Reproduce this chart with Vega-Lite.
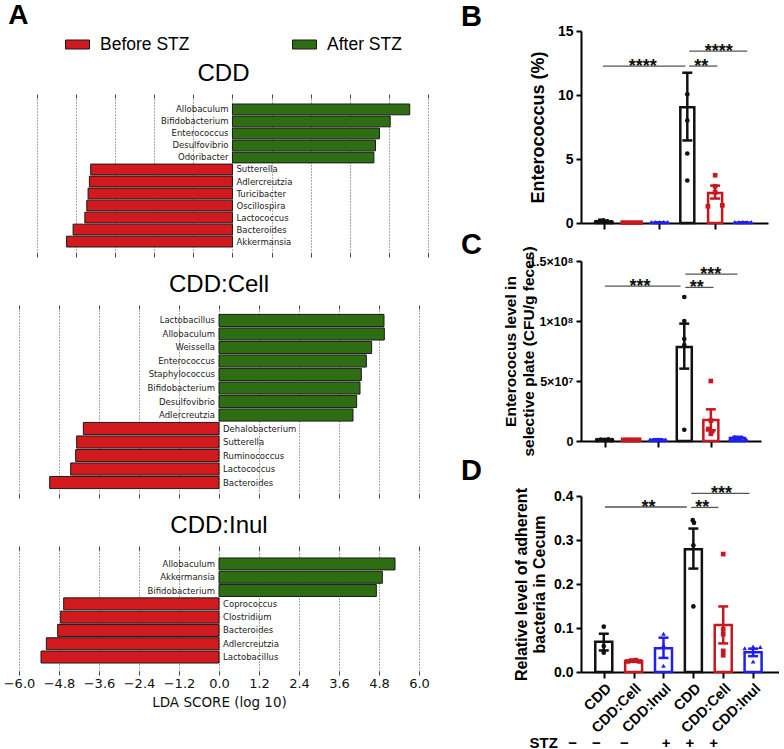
{
  "$schema": "https://vega.github.io/schema/vega-lite/v6.json",
  "background": "white",
  "padding": {"left": 3, "top": 1, "right": 0, "bottom": 0},
  "datasets": {
    "lefse": [
      {"panel": "CDD", "taxon": "Allobaculum", "lda": 5.44, "group": "After STZ"},
      {"panel": "CDD", "taxon": "Bifidobacterium", "lda": 4.84, "group": "After STZ"},
      {"panel": "CDD", "taxon": "Enterococcus", "lda": 4.51, "group": "After STZ"},
      {"panel": "CDD", "taxon": "Desulfovibrio", "lda": 4.39, "group": "After STZ"},
      {"panel": "CDD", "taxon": "Odoribacter", "lda": 4.34, "group": "After STZ"},
      {"panel": "CDD", "taxon": "Sutterella", "lda": -4.35, "group": "Before STZ"},
      {"panel": "CDD", "taxon": "Adlercreutzia", "lda": -4.39, "group": "Before STZ"},
      {"panel": "CDD", "taxon": "Turicibacter", "lda": -4.43, "group": "Before STZ"},
      {"panel": "CDD", "taxon": "Oscillospira", "lda": -4.47, "group": "Before STZ"},
      {"panel": "CDD", "taxon": "Lactococcus", "lda": -4.53, "group": "Before STZ"},
      {"panel": "CDD", "taxon": "Bacteroides", "lda": -4.89, "group": "Before STZ"},
      {"panel": "CDD", "taxon": "Akkermansia", "lda": -5.09, "group": "Before STZ"},
      {"panel": "CDD:Cell", "taxon": "Lactobacillus", "lda": 4.95, "group": "After STZ"},
      {"panel": "CDD:Cell", "taxon": "Allobaculum", "lda": 4.96, "group": "After STZ"},
      {"panel": "CDD:Cell", "taxon": "Weissella", "lda": 4.58, "group": "After STZ"},
      {"panel": "CDD:Cell", "taxon": "Enterococcus", "lda": 4.42, "group": "After STZ"},
      {"panel": "CDD:Cell", "taxon": "Staphylococcus", "lda": 4.27, "group": "After STZ"},
      {"panel": "CDD:Cell", "taxon": "Bifidobacterium", "lda": 4.23, "group": "After STZ"},
      {"panel": "CDD:Cell", "taxon": "Desulfovibrio", "lda": 4.13, "group": "After STZ"},
      {"panel": "CDD:Cell", "taxon": "Adlercreutzia", "lda": 4.02, "group": "After STZ"},
      {"panel": "CDD:Cell", "taxon": "Dehalobacterium", "lda": -4.07, "group": "Before STZ"},
      {"panel": "CDD:Cell", "taxon": "Sutterella", "lda": -4.27, "group": "Before STZ"},
      {"panel": "CDD:Cell", "taxon": "Ruminococcus", "lda": -4.30, "group": "Before STZ"},
      {"panel": "CDD:Cell", "taxon": "Lactococcus", "lda": -4.45, "group": "Before STZ"},
      {"panel": "CDD:Cell", "taxon": "Bacteroides", "lda": -5.08, "group": "Before STZ"},
      {"panel": "CDD:Inul", "taxon": "Allobaculum", "lda": 5.28, "group": "After STZ"},
      {"panel": "CDD:Inul", "taxon": "Akkermansia", "lda": 4.90, "group": "After STZ"},
      {"panel": "CDD:Inul", "taxon": "Bifidobacterium", "lda": 4.72, "group": "After STZ"},
      {"panel": "CDD:Inul", "taxon": "Coprococcus", "lda": -4.66, "group": "Before STZ"},
      {"panel": "CDD:Inul", "taxon": "Clostridium", "lda": -4.75, "group": "Before STZ"},
      {"panel": "CDD:Inul", "taxon": "Bacteroides", "lda": -4.84, "group": "Before STZ"},
      {"panel": "CDD:Inul", "taxon": "Adlercreutzia", "lda": -5.18, "group": "Before STZ"},
      {"panel": "CDD:Inul", "taxon": "Lactobacillus", "lda": -5.34, "group": "Before STZ"}
    ],
    "bars": [
      {"panel": "B", "pos": 1, "grp": "CDD", "mean": 0.12, "lo": 0.07, "hi": 0.17},
      {"panel": "B", "pos": 2, "grp": "CDD:Cell", "mean": 0.03, "lo": 0.02, "hi": 0.04},
      {"panel": "B", "pos": 3, "grp": "CDD:Inul", "mean": 0.03, "lo": 0.02, "hi": 0.04},
      {"panel": "B", "pos": 4, "grp": "CDD", "mean": 9.05, "lo": 6.45, "hi": 11.74},
      {"panel": "B", "pos": 5, "grp": "CDD:Cell", "mean": 2.35, "lo": 1.91, "hi": 2.92},
      {"panel": "B", "pos": 6, "grp": "CDD:Inul", "mean": 0.03, "lo": 0.02, "hi": 0.04},
      {"panel": "C", "pos": 1, "grp": "CDD", "mean": 1000000, "lo": 500000, "hi": 1500000},
      {"panel": "C", "pos": 2, "grp": "CDD:Cell", "mean": 1000000, "lo": 500000, "hi": 1500000},
      {"panel": "C", "pos": 3, "grp": "CDD:Inul", "mean": 1000000, "lo": 500000, "hi": 1500000},
      {"panel": "C", "pos": 4, "grp": "CDD", "mean": 78300000, "lo": 60300000, "hi": 97800000},
      {"panel": "C", "pos": 5, "grp": "CDD:Cell", "mean": 17500000, "lo": 8900000, "hi": 26400000},
      {"panel": "C", "pos": 6, "grp": "CDD:Inul", "mean": 2500000, "lo": 1500000, "hi": 3500000},
      {"panel": "D", "pos": 1, "grp": "CDD", "mean": 0.069, "lo": 0.049, "hi": 0.087},
      {"panel": "D", "pos": 2, "grp": "CDD:Cell", "mean": 0.025, "lo": 0.023, "hi": 0.027},
      {"panel": "D", "pos": 3, "grp": "CDD:Inul", "mean": 0.054, "lo": 0.032, "hi": 0.078},
      {"panel": "D", "pos": 4, "grp": "CDD", "mean": 0.279, "lo": 0.235, "hi": 0.326},
      {"panel": "D", "pos": 5, "grp": "CDD:Cell", "mean": 0.107, "lo": 0.065, "hi": 0.149},
      {"panel": "D", "pos": 6, "grp": "CDD:Inul", "mean": 0.045, "lo": 0.036, "hi": 0.053}
    ],
    "pts": [
      {"panel": "B", "grp": "CDD", "x": 0.72, "value": 0.08},
      {"panel": "B", "grp": "CDD", "x": 0.86, "value": 0.18},
      {"panel": "B", "grp": "CDD", "x": 0.98, "value": 0.2},
      {"panel": "B", "grp": "CDD", "x": 1.12, "value": 0.12},
      {"panel": "B", "grp": "CDD", "x": 1.28, "value": 0.06},
      {"panel": "B", "grp": "CDD:Cell", "x": 1.68, "value": 0.03},
      {"panel": "B", "grp": "CDD:Cell", "x": 1.84, "value": 0.03},
      {"panel": "B", "grp": "CDD:Cell", "x": 2.0, "value": 0.03},
      {"panel": "B", "grp": "CDD:Cell", "x": 2.16, "value": 0.03},
      {"panel": "B", "grp": "CDD:Cell", "x": 2.32, "value": 0.03},
      {"panel": "B", "grp": "CDD:Inul", "x": 2.7, "value": 0.08},
      {"panel": "B", "grp": "CDD:Inul", "x": 2.85, "value": 0.08},
      {"panel": "B", "grp": "CDD:Inul", "x": 3.0, "value": 0.08},
      {"panel": "B", "grp": "CDD:Inul", "x": 3.15, "value": 0.08},
      {"panel": "B", "grp": "CDD:Inul", "x": 3.3, "value": 0.08},
      {"panel": "B", "grp": "CDD", "x": 4.0, "value": 10.05},
      {"panel": "B", "grp": "CDD", "x": 4.0, "value": 8.01},
      {"panel": "B", "grp": "CDD", "x": 4.0, "value": 5.43},
      {"panel": "B", "grp": "CDD", "x": 4.0, "value": 3.32},
      {"panel": "B", "grp": "CDD:Cell", "x": 5.0, "value": 3.73},
      {"panel": "B", "grp": "CDD:Cell", "x": 5.0, "value": 2.87},
      {"panel": "B", "grp": "CDD:Cell", "x": 5.0, "value": 2.4},
      {"panel": "B", "grp": "CDD:Cell", "x": 4.74, "value": 1.31},
      {"panel": "B", "grp": "CDD:Cell", "x": 5.26, "value": 1.38},
      {"panel": "B", "grp": "CDD:Inul", "x": 5.7, "value": 0.08},
      {"panel": "B", "grp": "CDD:Inul", "x": 5.85, "value": 0.08},
      {"panel": "B", "grp": "CDD:Inul", "x": 6.0, "value": 0.08},
      {"panel": "B", "grp": "CDD:Inul", "x": 6.15, "value": 0.08},
      {"panel": "B", "grp": "CDD:Inul", "x": 6.3, "value": 0.08},
      {"panel": "C", "grp": "CDD", "x": 0.72, "value": 800000},
      {"panel": "C", "grp": "CDD", "x": 0.86, "value": 1200000},
      {"panel": "C", "grp": "CDD", "x": 1.0, "value": 1000000},
      {"panel": "C", "grp": "CDD", "x": 1.14, "value": 1300000},
      {"panel": "C", "grp": "CDD", "x": 1.28, "value": 700000},
      {"panel": "C", "grp": "CDD:Cell", "x": 1.7, "value": 1000000},
      {"panel": "C", "grp": "CDD:Cell", "x": 1.85, "value": 1000000},
      {"panel": "C", "grp": "CDD:Cell", "x": 2.0, "value": 1000000},
      {"panel": "C", "grp": "CDD:Cell", "x": 2.15, "value": 1000000},
      {"panel": "C", "grp": "CDD:Cell", "x": 2.3, "value": 1000000},
      {"panel": "C", "grp": "CDD:Inul", "x": 2.7, "value": 1000000},
      {"panel": "C", "grp": "CDD:Inul", "x": 2.85, "value": 1000000},
      {"panel": "C", "grp": "CDD:Inul", "x": 3.0, "value": 1000000},
      {"panel": "C", "grp": "CDD:Inul", "x": 3.15, "value": 1000000},
      {"panel": "C", "grp": "CDD:Inul", "x": 3.3, "value": 1000000},
      {"panel": "C", "grp": "CDD", "x": 4.0, "value": 120000000},
      {"panel": "C", "grp": "CDD", "x": 4.0, "value": 100000000},
      {"panel": "C", "grp": "CDD", "x": 4.0, "value": 85000000},
      {"panel": "C", "grp": "CDD", "x": 4.0, "value": 80000000},
      {"panel": "C", "grp": "CDD", "x": 4.0, "value": 9400000},
      {"panel": "C", "grp": "CDD:Cell", "x": 5.0, "value": 50000000},
      {"panel": "C", "grp": "CDD:Cell", "x": 5.0, "value": 17000000},
      {"panel": "C", "grp": "CDD:Cell", "x": 4.9, "value": 10000000},
      {"panel": "C", "grp": "CDD:Cell", "x": 5.05, "value": 8000000},
      {"panel": "C", "grp": "CDD:Cell", "x": 5.0, "value": 6000000},
      {"panel": "C", "grp": "CDD:Inul", "x": 5.75, "value": 2000000},
      {"panel": "C", "grp": "CDD:Inul", "x": 5.9, "value": 3500000},
      {"panel": "C", "grp": "CDD:Inul", "x": 6.05, "value": 1500000},
      {"panel": "C", "grp": "CDD:Inul", "x": 6.2, "value": 3000000},
      {"panel": "C", "grp": "CDD:Inul", "x": 6.35, "value": 1000000},
      {"panel": "D", "grp": "CDD", "x": 1.0, "value": 0.103},
      {"panel": "D", "grp": "CDD", "x": 1.0, "value": 0.059},
      {"panel": "D", "grp": "CDD", "x": 1.0, "value": 0.044},
      {"panel": "D", "grp": "CDD:Cell", "x": 1.8, "value": 0.024},
      {"panel": "D", "grp": "CDD:Cell", "x": 1.93, "value": 0.026},
      {"panel": "D", "grp": "CDD:Cell", "x": 2.07, "value": 0.027},
      {"panel": "D", "grp": "CDD:Cell", "x": 2.2, "value": 0.024},
      {"panel": "D", "grp": "CDD:Inul", "x": 3.0, "value": 0.087},
      {"panel": "D", "grp": "CDD:Inul", "x": 3.0, "value": 0.061},
      {"panel": "D", "grp": "CDD:Inul", "x": 3.0, "value": 0.014},
      {"panel": "D", "grp": "CDD", "x": 3.98, "value": 0.345},
      {"panel": "D", "grp": "CDD", "x": 4.02, "value": 0.339},
      {"panel": "D", "grp": "CDD", "x": 4.0, "value": 0.288},
      {"panel": "D", "grp": "CDD", "x": 4.0, "value": 0.149},
      {"panel": "D", "grp": "CDD:Cell", "x": 5.0, "value": 0.268},
      {"panel": "D", "grp": "CDD:Cell", "x": 5.0, "value": 0.097},
      {"panel": "D", "grp": "CDD:Cell", "x": 5.0, "value": 0.086},
      {"panel": "D", "grp": "CDD:Cell", "x": 5.0, "value": 0.048},
      {"panel": "D", "grp": "CDD:Cell", "x": 5.0, "value": 0.038},
      {"panel": "D", "grp": "CDD:Inul", "x": 5.72, "value": 0.054},
      {"panel": "D", "grp": "CDD:Inul", "x": 6.0, "value": 0.058},
      {"panel": "D", "grp": "CDD:Inul", "x": 6.24, "value": 0.057},
      {"panel": "D", "grp": "CDD:Inul", "x": 6.0, "value": 0.024}
    ],
    "brk": [
      {"panel": "B", "from": 0.97, "to": 3.93, "y": 12.26, "mid": 2.4, "stars": "****"},
      {"panel": "B", "from": 4.07, "to": 5.08, "y": 12.26, "mid": 4.5, "stars": "**"},
      {"panel": "B", "from": 4.07, "to": 6.15, "y": 13.43, "mid": 5.13, "stars": "****"},
      {"panel": "C", "from": 1.01, "to": 3.86, "y": 129000000, "mid": 2.33, "stars": "***"},
      {"panel": "C", "from": 4.04, "to": 5.1, "y": 128000000, "mid": 4.47, "stars": "**"},
      {"panel": "C", "from": 4.04, "to": 6.0, "y": 139000000, "mid": 5.0, "stars": "***"},
      {"panel": "D", "from": 1.04, "to": 3.78, "y": 0.375, "mid": 2.5, "stars": "**"},
      {"panel": "D", "from": 3.93, "to": 4.84, "y": 0.374, "mid": 4.3, "stars": "**"},
      {"panel": "D", "from": 3.93, "to": 5.88, "y": 0.406, "mid": 4.94, "stars": "***"}
    ]
  },
  "columns": 2,
  "align": "none",
  "spacing": 31,
  "concat": [
    {
      "title": {"text": "A", "anchor": "start", "fontSize": 28, "fontWeight": "bold", "font": "Liberation Sans", "color": "#000", "offset": 1, "dx": 5},
      "spacing": 56,
      "bounds": "flush",
      "resolve": {"legend": {"color": "independent"}},
      "vconcat": [
        {
          "width": 400, "height": 11,
          "data": {"values": [{}]},
          "mark": {"type": "text", "text": ""}
        },
        {
          "width": 409, "height": 155,
          "data": {"name": "lefse"},
          "transform": [{"filter": "datum.panel == 'CDD'"}],
          "title": {"text": "CDD", "font": "Liberation Sans", "fontSize": 24, "fontWeight": "normal", "color": "#000", "frame": "group", "anchor": "middle", "offset": -52},
          "layer": [
            {
              "mark": {"type": "bar", "stroke": "#1a1a1a", "strokeWidth": 1},
              "encoding": {
                "y": {"field": "taxon", "type": "nominal", "sort": null, "axis": null, "scale": {"paddingInner": 0.1, "paddingOuter": 0.5}},
                "x": {"field": "lda", "type": "quantitative", "scale": {"domain": [-6.55, 6], "nice": false, "zero": false},
                  "axis": {"orient": "bottom", "values": [-6, -4.8, -3.6, -2.4, -1.2, 0, 1.2, 2.4, 3.6, 4.8, 6], "grid": true, "gridDash": [1, 2], "gridColor": "#555", "gridWidth": 1, "ticks": true, "tickSize": 4, "tickWidth": 1, "tickColor": "#444", "domain": false, "labels": false, "title": null}},
                "color": {"field": "group", "type": "nominal",
                  "scale": {"domain": ["Before STZ", "After STZ"], "range": ["#d2191e", "#2f6d13"]},
                  "legend": {"orient": "none", "legendX": 48, "legendY": -64, "direction": "horizontal", "title": null, "symbolType": "M-1.2,-0.45H1.2V0.45H-1.2Z", "symbolSize": 400, "symbolStrokeColor": "#1a1a1a", "symbolStrokeWidth": 1, "symbolOpacity": 1, "labelFont": "Liberation Sans", "labelFontSize": 17.5, "labelFontWeight": "normal", "labelColor": "#000", "labelOffset": 12, "columnPadding": 100, "labelLimit": 300}}
              }
            },
            {
              "mark": {"type": "text", "align": "right", "baseline": "middle", "dx": -4, "font": "DejaVu Sans", "fontSize": 8.5, "fill": "#222"},
              "encoding": {
                "y": {"field": "taxon", "type": "nominal", "sort": null, "axis": null},
                "x": {"datum": 0, "type": "quantitative", "axis": {"orient": "top", "values": [-6, -4.8, -3.6, -2.4, -1.2, 0, 1.2, 2.4, 3.6, 4.8, 6], "grid": false, "ticks": true, "tickSize": 4, "tickWidth": 1, "tickColor": "#444", "domain": false, "labels": false, "title": null}},
                "text": {"condition": {"test": "datum.lda > 0", "field": "taxon", "type": "nominal"}, "value": ""}
              }
            },
            {
              "mark": {"type": "text", "align": "left", "baseline": "middle", "dx": 4, "font": "DejaVu Sans", "fontSize": 8.5, "fill": "#222"},
              "encoding": {
                "y": {"field": "taxon", "type": "nominal", "sort": null, "axis": null},
                "x": {"datum": 0, "type": "quantitative", "axis": null},
                "text": {"condition": {"test": "datum.lda < 0", "field": "taxon", "type": "nominal"}, "value": ""}
              }
            }
          ],
          "resolve": {"axis": {"x": "independent"}}
        },
        {
          "width": 400, "height": 185,
          "data": {"name": "lefse"},
          "transform": [{"filter": "datum.panel == 'CDD:Cell'"}],
          "title": {"text": "CDD:Cell", "font": "Liberation Sans", "fontSize": 24, "fontWeight": "normal", "color": "#000", "frame": "group", "anchor": "middle", "offset": 8},
          "layer": [
            {
              "mark": {"type": "bar", "stroke": "#1a1a1a", "strokeWidth": 1},
              "encoding": {
                "y": {"field": "taxon", "type": "nominal", "sort": null, "axis": null, "scale": {"paddingInner": 0.1, "paddingOuter": 0.4}},
                "x": {"field": "lda", "type": "quantitative", "scale": {"domain": [-6, 6], "nice": false, "zero": false},
                  "axis": {"orient": "bottom", "values": [-6, -4.8, -3.6, -2.4, -1.2, 0, 1.2, 2.4, 3.6, 4.8, 6], "grid": true, "gridDash": [1, 2], "gridColor": "#555", "gridWidth": 1, "ticks": true, "tickSize": 4, "tickWidth": 1, "tickColor": "#444", "domain": false, "labels": false, "title": null}},
                "color": {"field": "group", "type": "nominal", "scale": {"domain": ["Before STZ", "After STZ"], "range": ["#d2191e", "#2f6d13"]}, "legend": null}
              }
            },
            {
              "mark": {"type": "text", "align": "right", "baseline": "middle", "dx": -4, "font": "DejaVu Sans", "fontSize": 8.5, "fill": "#222"},
              "encoding": {
                "y": {"field": "taxon", "type": "nominal", "sort": null, "axis": null},
                "x": {"datum": 0, "type": "quantitative", "axis": {"orient": "top", "values": [-6, -4.8, -3.6, -2.4, -1.2, 0, 1.2, 2.4, 3.6, 4.8, 6], "grid": false, "ticks": true, "tickSize": 4, "tickWidth": 1, "tickColor": "#444", "domain": false, "labels": false, "title": null}},
                "text": {"condition": {"test": "datum.lda > 0", "field": "taxon", "type": "nominal"}, "value": ""}
              }
            },
            {
              "mark": {"type": "text", "align": "left", "baseline": "middle", "dx": 4, "font": "DejaVu Sans", "fontSize": 8.5, "fill": "#222"},
              "encoding": {
                "y": {"field": "taxon", "type": "nominal", "sort": null, "axis": null},
                "x": {"datum": 0, "type": "quantitative", "axis": null},
                "text": {"condition": {"test": "datum.lda < 0", "field": "taxon", "type": "nominal"}, "value": ""}
              }
            }
          ],
          "resolve": {"axis": {"x": "independent"}}
        },
        {
          "width": 400, "height": 121,
          "data": {"name": "lefse"},
          "transform": [{"filter": "datum.panel == 'CDD:Inul'"}],
          "title": {"text": "CDD:Inul", "font": "Liberation Sans", "fontSize": 24, "fontWeight": "normal", "color": "#000", "frame": "group", "anchor": "middle", "offset": 8},
          "layer": [
            {
              "mark": {"type": "bar", "stroke": "#1a1a1a", "strokeWidth": 1},
              "encoding": {
                "y": {"field": "taxon", "type": "nominal", "sort": null, "axis": null, "scale": {"paddingInner": 0.1, "paddingOuter": 0.6}},
                "x": {"field": "lda", "type": "quantitative", "scale": {"domain": [-6, 6], "nice": false, "zero": false},
                  "axis": {"orient": "bottom", "values": [-6, -4.8, -3.6, -2.4, -1.2, 0, 1.2, 2.4, 3.6, 4.8, 6], "format": ".1f", "grid": true, "gridDash": [1, 2], "gridColor": "#555", "gridWidth": 1, "ticks": true, "tickSize": 4, "tickWidth": 1, "tickColor": "#444", "domain": false, "labels": true, "labelFont": "DejaVu Sans", "labelFontSize": 13, "labelFontWeight": "normal", "labelColor": "#111", "labelPadding": 2, "title": "LDA SCORE (log 10)", "titleFont": "DejaVu Sans", "titleFontSize": 13.5, "titleFontWeight": "normal", "titleColor": "#111", "titlePadding": 5}},
                "color": {"field": "group", "type": "nominal", "scale": {"domain": ["Before STZ", "After STZ"], "range": ["#d2191e", "#2f6d13"]}, "legend": null}
              }
            },
            {
              "mark": {"type": "text", "align": "right", "baseline": "middle", "dx": -4, "font": "DejaVu Sans", "fontSize": 8.5, "fill": "#222"},
              "encoding": {
                "y": {"field": "taxon", "type": "nominal", "sort": null, "axis": null},
                "x": {"datum": 0, "type": "quantitative", "axis": {"orient": "top", "values": [-6, -4.8, -3.6, -2.4, -1.2, 0, 1.2, 2.4, 3.6, 4.8, 6], "grid": false, "ticks": true, "tickSize": 4, "tickWidth": 1, "tickColor": "#444", "domain": false, "labels": false, "title": null}},
                "text": {"condition": {"test": "datum.lda > 0", "field": "taxon", "type": "nominal"}, "value": ""}
              }
            },
            {
              "mark": {"type": "text", "align": "left", "baseline": "middle", "dx": 4, "font": "DejaVu Sans", "fontSize": 8.5, "fill": "#222"},
              "encoding": {
                "y": {"field": "taxon", "type": "nominal", "sort": null, "axis": null},
                "x": {"datum": 0, "type": "quantitative", "axis": null},
                "text": {"condition": {"test": "datum.lda < 0", "field": "taxon", "type": "nominal"}, "value": ""}
              }
            }
          ],
          "resolve": {"axis": {"x": "independent"}}
        }
      ]
    },
    {
      "spacing": 0,
      "vconcat": [
        {
          "width": 187, "height": 192,
          "title": {"text": "B", "anchor": "start", "frame": "group", "dx": -120, "offset": -8, "fontSize": 29, "fontWeight": "bold", "font": "Liberation Sans", "color": "#000"},
          "layer": [
            {
              "data": {"name": "bars"}, "transform": [{"filter": "datum.panel == 'B'"}],
              "mark": {"type": "bar", "orient": "vertical", "width": 14, "fill": "#fff", "strokeWidth": 2.5},
              "encoding": {
                "x": {"field": "pos", "type": "quantitative", "scale": {"domain": [0.36, 6.72], "nice": false, "zero": false}, "axis": {"values": [1, 2, 3, 4, 5, 6], "labels": false, "title": null, "tickSize": 6}},
                "y": {"field": "mean", "type": "quantitative", "scale": {"domain": [0, 15], "nice": false}, "axis": {"values": [0, 5, 10, 15], "title": "Enterococcus (%)", "titleFontSize": 18, "titlePadding": 10}},
                "stroke": {"field": "grp", "type": "nominal", "scale": {"domain": ["CDD", "CDD:Cell", "CDD:Inul"], "range": ["#111111", "#c8171e", "#1f1fee"]}, "legend": null}
              }
            },
            {
              "data": {"name": "bars"}, "transform": [{"filter": "datum.panel == 'B'"}],
              "mark": {"type": "rule", "strokeWidth": 2.5},
              "encoding": {
                "x": {"field": "pos", "type": "quantitative"},
                "y": {"field": "lo", "type": "quantitative"},
                "y2": {"field": "hi"},
                "stroke": {"field": "grp", "type": "nominal", "scale": {"domain": ["CDD", "CDD:Cell", "CDD:Inul"], "range": ["#111111", "#c8171e", "#1f1fee"]}, "legend": null}
              }
            },
            {
              "data": {"name": "bars"}, "transform": [{"filter": "datum.panel == 'B'"}],
              "mark": {"type": "tick", "orient": "horizontal", "size": 10, "thickness": 2.5, "opacity": 1},
              "encoding": {
                "x": {"field": "pos", "type": "quantitative"},
                "y": {"field": "lo", "type": "quantitative"},
                "fill": {"field": "grp", "type": "nominal", "scale": {"domain": ["CDD", "CDD:Cell", "CDD:Inul"], "range": ["#111111", "#c8171e", "#1f1fee"]}, "legend": null}
              }
            },
            {
              "data": {"name": "bars"}, "transform": [{"filter": "datum.panel == 'B'"}],
              "mark": {"type": "tick", "orient": "horizontal", "size": 10, "thickness": 2.5, "opacity": 1},
              "encoding": {
                "x": {"field": "pos", "type": "quantitative"},
                "y": {"field": "hi", "type": "quantitative"},
                "fill": {"field": "grp", "type": "nominal", "scale": {"domain": ["CDD", "CDD:Cell", "CDD:Inul"], "range": ["#111111", "#c8171e", "#1f1fee"]}, "legend": null}
              }
            },
            {
              "data": {"name": "pts"}, "transform": [{"filter": "datum.panel == 'B'"}],
              "mark": {"type": "point", "filled": true, "size": 22, "opacity": 1, "strokeWidth": 0},
              "encoding": {
                "x": {"field": "x", "type": "quantitative"},
                "y": {"field": "value", "type": "quantitative"},
                "fill": {"field": "grp", "type": "nominal", "scale": {"domain": ["CDD", "CDD:Cell", "CDD:Inul"], "range": ["#111111", "#c8171e", "#1f1fee"]}, "legend": null},
                "shape": {"field": "grp", "type": "nominal", "scale": {"domain": ["CDD", "CDD:Cell", "CDD:Inul"], "range": ["circle", "square", "triangle-up"]}, "legend": null}
              }
            },
            {
              "data": {"name": "brk"}, "transform": [{"filter": "datum.panel == 'B'"}],
              "mark": {"type": "rule", "color": "#555", "strokeWidth": 1.3},
              "encoding": {
                "x": {"field": "from", "type": "quantitative"},
                "x2": {"field": "to"},
                "y": {"field": "y", "type": "quantitative"}
              }
            },
            {
              "data": {"name": "brk"}, "transform": [{"filter": "datum.panel == 'B'"}],
              "mark": {"type": "text", "font": "Liberation Sans", "fontSize": 18, "fontWeight": "bold", "baseline": "alphabetic", "dy": 6, "fill": "#111"},
              "encoding": {
                "x": {"field": "mid", "type": "quantitative"},
                "y": {"field": "y", "type": "quantitative"},
                "text": {"field": "stars"}
              }
            }
          ]
        },
        {
          "width": 180, "height": 180,
          "title": {"text": "C", "anchor": "start", "frame": "group", "dx": -120, "offset": -14, "fontSize": 29, "fontWeight": "bold", "font": "Liberation Sans", "color": "#000"},
          "layer": [
            {
              "data": {"name": "bars"}, "transform": [{"filter": "datum.panel == 'C'"}],
              "mark": {"type": "bar", "orient": "vertical", "width": 15, "fill": "#fff", "strokeWidth": 2.5},
              "encoding": {
                "x": {"field": "pos", "type": "quantitative", "scale": {"domain": [0.3, 6.7], "nice": false, "zero": false}, "axis": {"values": [1, 2, 3, 4, 5, 6], "labels": false, "title": null, "tickSize": 6}},
                "y": {"field": "mean", "type": "quantitative", "scale": {"domain": [0, 150000000], "nice": false},
                  "axis": {"values": [0, 50000000, 100000000, 150000000], "labelFontSize": 12.5, "labelExpr": "datum.value == 0 ? '0' : datum.value == 50000000 ? '5×10⁷' : datum.value == 100000000 ? '1×10⁸' : '1.5×10⁸'", "title": ["Enterococus level in", "selective plate (CFU/g feces)"], "titleFontSize": 15.5, "titleLineHeight": 18, "titleLimit": 260, "titlePadding": -8}},
                "stroke": {"field": "grp", "type": "nominal", "scale": {"domain": ["CDD", "CDD:Cell", "CDD:Inul"], "range": ["#111111", "#c8171e", "#1f1fee"]}, "legend": null}
              }
            },
            {
              "data": {"name": "bars"}, "transform": [{"filter": "datum.panel == 'C'"}],
              "mark": {"type": "rule", "strokeWidth": 2.5},
              "encoding": {
                "x": {"field": "pos", "type": "quantitative"},
                "y": {"field": "lo", "type": "quantitative"},
                "y2": {"field": "hi"},
                "stroke": {"field": "grp", "type": "nominal", "scale": {"domain": ["CDD", "CDD:Cell", "CDD:Inul"], "range": ["#111111", "#c8171e", "#1f1fee"]}, "legend": null}
              }
            },
            {
              "data": {"name": "bars"}, "transform": [{"filter": "datum.panel == 'C'"}],
              "mark": {"type": "tick", "orient": "horizontal", "size": 10, "thickness": 2.5, "opacity": 1},
              "encoding": {
                "x": {"field": "pos", "type": "quantitative"},
                "y": {"field": "lo", "type": "quantitative"},
                "fill": {"field": "grp", "type": "nominal", "scale": {"domain": ["CDD", "CDD:Cell", "CDD:Inul"], "range": ["#111111", "#c8171e", "#1f1fee"]}, "legend": null}
              }
            },
            {
              "data": {"name": "bars"}, "transform": [{"filter": "datum.panel == 'C'"}],
              "mark": {"type": "tick", "orient": "horizontal", "size": 10, "thickness": 2.5, "opacity": 1},
              "encoding": {
                "x": {"field": "pos", "type": "quantitative"},
                "y": {"field": "hi", "type": "quantitative"},
                "fill": {"field": "grp", "type": "nominal", "scale": {"domain": ["CDD", "CDD:Cell", "CDD:Inul"], "range": ["#111111", "#c8171e", "#1f1fee"]}, "legend": null}
              }
            },
            {
              "data": {"name": "pts"}, "transform": [{"filter": "datum.panel == 'C'"}],
              "mark": {"type": "point", "filled": true, "size": 22, "opacity": 1, "strokeWidth": 0},
              "encoding": {
                "x": {"field": "x", "type": "quantitative"},
                "y": {"field": "value", "type": "quantitative"},
                "fill": {"field": "grp", "type": "nominal", "scale": {"domain": ["CDD", "CDD:Cell", "CDD:Inul"], "range": ["#111111", "#c8171e", "#1f1fee"]}, "legend": null},
                "shape": {"field": "grp", "type": "nominal", "scale": {"domain": ["CDD", "CDD:Cell", "CDD:Inul"], "range": ["circle", "square", "triangle-up"]}, "legend": null}
              }
            },
            {
              "data": {"name": "brk"}, "transform": [{"filter": "datum.panel == 'C'"}],
              "mark": {"type": "rule", "color": "#555", "strokeWidth": 1.3},
              "encoding": {
                "x": {"field": "from", "type": "quantitative"},
                "x2": {"field": "to"},
                "y": {"field": "y", "type": "quantitative"}
              }
            },
            {
              "data": {"name": "brk"}, "transform": [{"filter": "datum.panel == 'C'"}],
              "mark": {"type": "text", "font": "Liberation Sans", "fontSize": 18, "fontWeight": "bold", "baseline": "alphabetic", "dy": 6, "fill": "#111"},
              "encoding": {
                "x": {"field": "mid", "type": "quantitative"},
                "y": {"field": "y", "type": "quantitative"},
                "text": {"field": "stars"}
              }
            }
          ]
        },
        {
          "width": 198, "height": 176,
          "title": {"text": "D", "anchor": "start", "frame": "group", "dx": -120, "offset": -1, "fontSize": 29, "fontWeight": "bold", "font": "Liberation Sans", "color": "#000"},
          "resolve": {"axis": {"x": "independent"}},
          "layer": [
            {
              "data": {"name": "bars"}, "transform": [{"filter": "datum.panel == 'D'"}],
              "mark": {"type": "bar", "orient": "vertical", "width": 17, "fill": "#fff", "strokeWidth": 2.5},
              "encoding": {
                "x": {"field": "pos", "type": "quantitative", "scale": {"domain": [0.405, 6.7], "nice": false, "zero": false},
                  "axis": {"orient": "bottom", "values": [1, 3, 5], "tickSize": 6, "labelExpr": "['CDD','CDD:Cell','CDD:Inul','CDD','CDD:Cell','CDD:Inul'][datum.value - 1]", "labelAngle": -45, "labelAlign": "right", "labelBaseline": "top", "labelFontSize": 14.5, "labelOverlap": false,
                    "title": "STZ\u2002\u2009\u2212\u2003\u2212\u2003\u00a0\u2212\u2003\u2003\u2009+\u2003+\u2003+", "titleX": -52, "titleY": 75, "titleAlign": "left", "titleBaseline": "alphabetic", "titleAngle": 0, "titleFontSize": 15}},
                "y": {"field": "mean", "type": "quantitative", "scale": {"domain": [0, 0.4], "nice": false},
                  "axis": {"values": [0, 0.1, 0.2, 0.3, 0.4], "format": ".1f", "title": ["Relative level of adherent", "bacteria in Cecum"], "titleFontSize": 16, "titleLineHeight": 18, "titlePadding": 6}},
                "stroke": {"field": "grp", "type": "nominal", "scale": {"domain": ["CDD", "CDD:Cell", "CDD:Inul"], "range": ["#111111", "#c8171e", "#1f1fee"]}, "legend": null}
              }
            },
            {
              "data": {"name": "bars"}, "transform": [{"filter": "datum.panel == 'D'"}],
              "mark": {"type": "rule", "strokeWidth": 2.5},
              "encoding": {
                "x": {"field": "pos", "type": "quantitative",
                  "axis": {"orient": "bottom", "values": [2, 4, 6], "domain": false, "tickSize": 6, "labelExpr": "['CDD','CDD:Cell','CDD:Inul','CDD','CDD:Cell','CDD:Inul'][datum.value - 1]", "labelAngle": -45, "labelAlign": "right", "labelBaseline": "top", "labelFontSize": 14.5, "labelOverlap": false, "title": null}},
                "y": {"field": "lo", "type": "quantitative"},
                "y2": {"field": "hi"},
                "stroke": {"field": "grp", "type": "nominal", "scale": {"domain": ["CDD", "CDD:Cell", "CDD:Inul"], "range": ["#111111", "#c8171e", "#1f1fee"]}, "legend": null}
              }
            },
            {
              "data": {"name": "bars"}, "transform": [{"filter": "datum.panel == 'D'"}],
              "mark": {"type": "tick", "orient": "horizontal", "size": 10, "thickness": 2.5, "opacity": 1},
              "encoding": {
                "x": {"field": "pos", "type": "quantitative", "axis": null},
                "y": {"field": "lo", "type": "quantitative"},
                "fill": {"field": "grp", "type": "nominal", "scale": {"domain": ["CDD", "CDD:Cell", "CDD:Inul"], "range": ["#111111", "#c8171e", "#1f1fee"]}, "legend": null}
              }
            },
            {
              "data": {"name": "bars"}, "transform": [{"filter": "datum.panel == 'D'"}],
              "mark": {"type": "tick", "orient": "horizontal", "size": 10, "thickness": 2.5, "opacity": 1},
              "encoding": {
                "x": {"field": "pos", "type": "quantitative", "axis": null},
                "y": {"field": "hi", "type": "quantitative"},
                "fill": {"field": "grp", "type": "nominal", "scale": {"domain": ["CDD", "CDD:Cell", "CDD:Inul"], "range": ["#111111", "#c8171e", "#1f1fee"]}, "legend": null}
              }
            },
            {
              "data": {"name": "pts"}, "transform": [{"filter": "datum.panel == 'D'"}],
              "mark": {"type": "point", "filled": true, "size": 22, "opacity": 1, "strokeWidth": 0},
              "encoding": {
                "x": {"field": "x", "type": "quantitative", "axis": null},
                "y": {"field": "value", "type": "quantitative"},
                "fill": {"field": "grp", "type": "nominal", "scale": {"domain": ["CDD", "CDD:Cell", "CDD:Inul"], "range": ["#111111", "#c8171e", "#1f1fee"]}, "legend": null},
                "shape": {"field": "grp", "type": "nominal", "scale": {"domain": ["CDD", "CDD:Cell", "CDD:Inul"], "range": ["circle", "square", "triangle-up"]}, "legend": null}
              }
            },
            {
              "data": {"name": "brk"}, "transform": [{"filter": "datum.panel == 'D'"}],
              "mark": {"type": "rule", "color": "#555", "strokeWidth": 1.3},
              "encoding": {
                "x": {"field": "from", "type": "quantitative", "axis": null},
                "x2": {"field": "to"},
                "y": {"field": "y", "type": "quantitative"}
              }
            },
            {
              "data": {"name": "brk"}, "transform": [{"filter": "datum.panel == 'D'"}],
              "mark": {"type": "text", "font": "Liberation Sans", "fontSize": 18, "fontWeight": "bold", "baseline": "alphabetic", "dy": 6, "fill": "#111"},
              "encoding": {
                "x": {"field": "mid", "type": "quantitative", "axis": null},
                "y": {"field": "y", "type": "quantitative"},
                "text": {"field": "stars"}
              }
            }
          ]
        }
      ]
    }
  ],
  "config": {
    "view": {"stroke": null},
    "font": "Liberation Sans",
    "axis": {"domainColor": "#000", "domainWidth": 2, "tickColor": "#000", "tickWidth": 2, "tickSize": 5, "labelFont": "Liberation Sans", "labelFontSize": 14, "labelFontWeight": "bold", "labelColor": "#000", "titleFont": "Liberation Sans", "titleFontWeight": "bold", "titleColor": "#000", "grid": false, "labelFlush": false, "labelOverlap": false, "labelPadding": 3}
  }
}
